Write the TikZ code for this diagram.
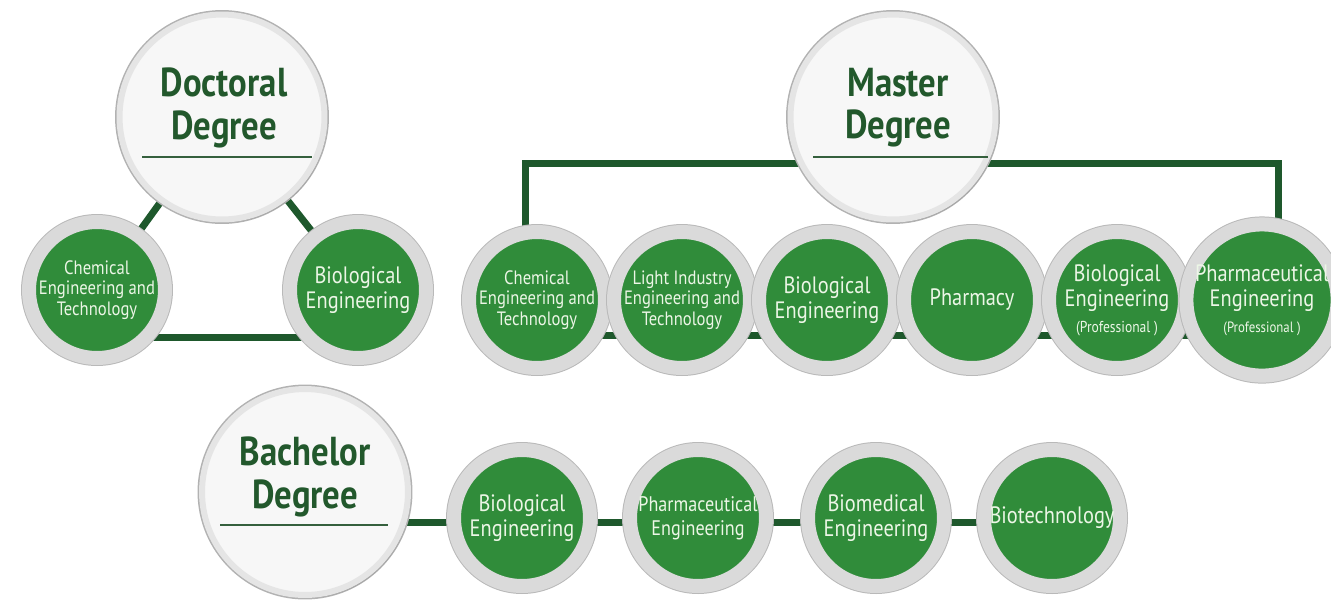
\documentclass[tikz,border=0pt]{standalone}
\usepackage{fontspec}
\setmainfont{PT Sans}[FakeStretch=0.86]
\usetikzlibrary{calc,backgrounds,shadows}

\definecolor{leafgreen}{RGB}{48,140,58}
\definecolor{linkgreen}{RGB}{30,88,44}
\definecolor{titlegreen}{RGB}{34,88,44}
\definecolor{ringgray}{RGB}{218,218,218}
\definecolor{mintwhite}{RGB}{236,246,230}

\tikzset{
  subdisc/.style={circle,inner sep=0pt,minimum size=2.72cm,fill=leafgreen,
    draw=ringgray,line width=0.28cm,text=mintwhite,align=center,
    font=\fontsize{13.5}{14.5}\selectfont,
    preaction={draw=gray!55,line width=0.32cm},
    drop shadow={opacity=0.2,shadow xshift=0.04cm,shadow yshift=-0.05cm}},
  smalltxt/.style={font=\fontsize{11}{11.5}\selectfont},
  degdisc/.style={circle,inner sep=0pt,minimum size=4.1cm,fill=gray!6,
    draw=gray!20,line width=0.12cm,
    preaction={draw=gray!60,line width=0.18cm},
    drop shadow={opacity=0.25,shadow xshift=0.05cm,shadow yshift=-0.06cm}},
  degtext/.style={align=center,text=titlegreen,inner sep=0pt,
    font=\bfseries\fontsize{23}{24}\selectfont},
  degrule/.style={draw=titlegreen!80!gray,line width=0.8pt},
  link/.style={draw=linkgreen,line width=0.14cm}
}

\begin{document}
\begin{tikzpicture}[x=0.02cm,y=-0.02cm]
  \useasboundingbox (0,0) rectangle (1331,600);

  % doctoral
  \node[degdisc] (doc) at (222,117) {};
  \node[degtext] (doctxt) at (224,108) {Doctoral\\Degree};
  \draw[degrule] ($(doc.center)+(-80,40)$) -- ($(doc.center)+(90,40)$);
  \node[subdisc,smalltxt] (dchem) at (97,290) {Chemical\\Engineering and\\Technology};
  \node[subdisc] (dbio) at (358,290) {Biological\\Engineering};

  % master
  \node[degdisc] (mast) at (893,117) {};
  \node[degtext] (masttxt) at (898,108) {Master\\Degree};
  \draw[degrule] ($(mast.center)+(-80,40)$) -- ($(mast.center)+(95,40)$);
  \node[subdisc,smalltxt] (mchem) at (537,300) {Chemical\\Engineering and\\Technology};
  \node[subdisc,smalltxt] (mlight) at (682,300) {Light Industry\\Engineering and\\Technology};
  \node[subdisc] (mbio) at (827,300) {Biological\\Engineering};
  \node[subdisc] (mphar) at (972,300) {Pharmacy};
  \node[subdisc] (mbiop) at (1117,300) {Biological\\Engineering\\{\fontsize{9}{9.5}\selectfont(Professional )}};
  \node[subdisc] (mpeng) at (1262,300) {Pharmaceutical\\Engineering\\{\fontsize{8.5}{9.5}\selectfont(Professional )}};
  \coordinate (mbar) at (893,163);

  % bachelor
  \node[degdisc,minimum size=4.12cm] (bach) at (305,492) {};
  \node[degtext] (bachtxt) at (305,477) {Bachelor\\Degree};
  \draw[degrule] ($(bach.center)+(-85,33)$) -- ($(bach.center)+(83,33)$);
  \node[subdisc] (bbio) at (522,518) {Biological\\Engineering};
  \node[subdisc,font=\fontsize{12}{13.5}\selectfont] (bpeng) at (698,518) {Pharmaceutical\\Engineering};
  \node[subdisc] (bbmed) at (876,518) {Biomedical\\Engineering};
  \node[subdisc] (btech) at (1052,518) {Biotechnology};
  \coordinate (bline) at (305,522);

  \begin{pgfonlayer}{background}
    \draw[link] (doc) -- (dchem);
    \draw[link] (doc) -- (dbio);
    \draw[link] ([yshift=-0.94cm]dchem.center) -- ([yshift=-0.94cm]dbio.center);
    \draw[link] ([xshift=-0.24cm]mchem.center) |- (mbar) -| ([xshift=0.32cm]mpeng.center);
    \draw[link] ([yshift=-0.7cm]mchem.center) -- ([yshift=-0.7cm]mpeng.center);
    \draw[link] (bline) -- (bline -| btech.center);
  \end{pgfonlayer}
\end{tikzpicture}
\end{document}
